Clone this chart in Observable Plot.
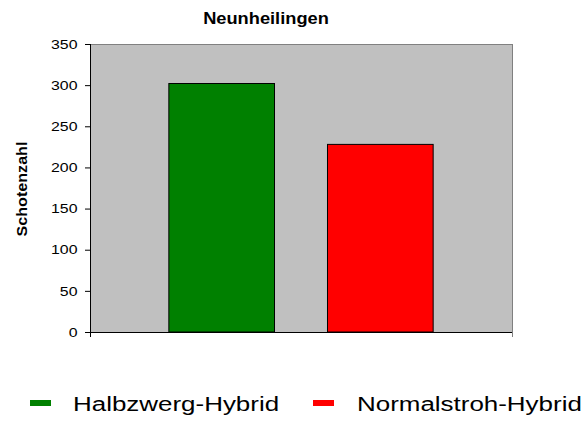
<!DOCTYPE html>
<html><head><meta charset="utf-8">
<script src="https://cdn.jsdelivr.net/npm/d3@7"></script>
<script src="https://cdn.jsdelivr.net/npm/@observablehq/plot@0.6"></script>
<style>
html,body{margin:0;padding:0;background:#fff}
#chart{position:relative;width:587px;height:423px;overflow:hidden;font-family:"Liberation Sans",Arial,sans-serif;color:#000;background:#fff}
#chart svg{position:absolute;left:0;top:0}
.title{position:absolute;left:266px;top:10.5px;font-weight:bold;font-size:16px;line-height:1;white-space:nowrap;transform:translateX(-50%) scaleX(1.14)}
.ylabel{position:absolute;left:22.3px;top:189px;font-weight:bold;font-size:14px;line-height:1;white-space:nowrap;transform:translate(-50%,-50%) rotate(-90deg) scaleX(1.15)}
.sw{position:absolute;width:21px;height:6px}
.lt{position:absolute;font-size:19.5px;line-height:1;white-space:nowrap;transform-origin:left center;transform:scaleX(1.33)}
</style>
</head><body>
<div id="chart"></div>
<script>
const title = "Neunheilingen";
const yLabel = "Schotenzahl";
const series = ["Halbzwerg-Hybrid", "Normalstroh-Hybrid"];
const values = [302, 228];
const colors = ["#008000", "#ff0000"];
const yTicks = [0, 50, 100, 150, 200, 250, 300, 350];

const data = series.map((s, i) => ({series: s, value: values[i]}));

function axisLines(index, scales, values, dimensions) {
  const d = dimensions || {};
  const ns = "http://www.w3.org/2000/svg";
  const g = document.createElementNS(ns, "g");
  const left = d.marginLeft + 0.5, right = d.width - d.marginRight + 0.5;
  const top = d.marginTop, bottom = d.height - d.marginBottom;
  const mk = (x1, y1, x2, y2, c) => {
    const l = document.createElementNS(ns, "line");
    l.setAttribute("x1", x1); l.setAttribute("y1", y1);
    l.setAttribute("x2", x2); l.setAttribute("y2", y2);
    l.setAttribute("stroke", c);
    g.appendChild(l);
  };
  mk(left, top, left, bottom + 5, "#000");
  mk(right, bottom, right, bottom + 5, "#808080");
  return g;
}

const chart = Plot.plot({
  width: 587,
  height: 345,
  marginLeft: 90,
  marginRight: 75,
  marginTop: 44,
  marginBottom: 13,
  style: {fontFamily: "Liberation Sans, Arial, sans-serif", fontSize: "13px", color: "#000", background: "transparent"},
  x: {domain: series, axis: null, paddingInner: 0.334, paddingOuter: 0.497, round: false},
  y: {domain: [0, 350], ticks: yTicks, tickSize: 5, tickPadding: 8, label: null, tickFormat: d => String(d)},
  color: {domain: series, range: colors},
  marks: [
    Plot.frame({fill: "#c0c0c0", stroke: "#808080"}),
    Plot.barY(data, {x: "series", y: "value", fill: "series", stroke: "#000", strokeWidth: 1}),
    Plot.ruleY([0], {stroke: "#000"}),
    axisLines
  ]
});

const root = document.getElementById("chart");
root.appendChild(chart);

// horizontally stretched tick labels, as in the reference
chart.querySelectorAll("text").forEach(t => {
  if (/^\d+$/.test(t.textContent.trim())) {
    const x = +(t.getAttribute("x") || 0);
    const prev = t.getAttribute("transform") || "";
    t.setAttribute("transform", prev + ` translate(${x},0) scale(1.22,1) translate(${-x},0)`);
  }
});

const tEl = document.createElement("div");
tEl.className = "title"; tEl.textContent = title; root.appendChild(tEl);
const yEl = document.createElement("div");
yEl.className = "ylabel"; yEl.textContent = yLabel; root.appendChild(yEl);

const legendPos = [{sx: 30, tx: 73.3}, {sx: 312.7, tx: 356.7}];
series.forEach((s, i) => {
  const sw = document.createElement("div");
  sw.className = "sw";
  sw.style.left = legendPos[i].sx + "px"; sw.style.top = "400px";
  sw.style.background = colors[i];
  root.appendChild(sw);
  const lt = document.createElement("div");
  lt.className = "lt";
  lt.style.left = legendPos[i].tx + "px"; lt.style.top = "395.2px";
  lt.textContent = s;
  root.appendChild(lt);
});
</script>
</body></html>
